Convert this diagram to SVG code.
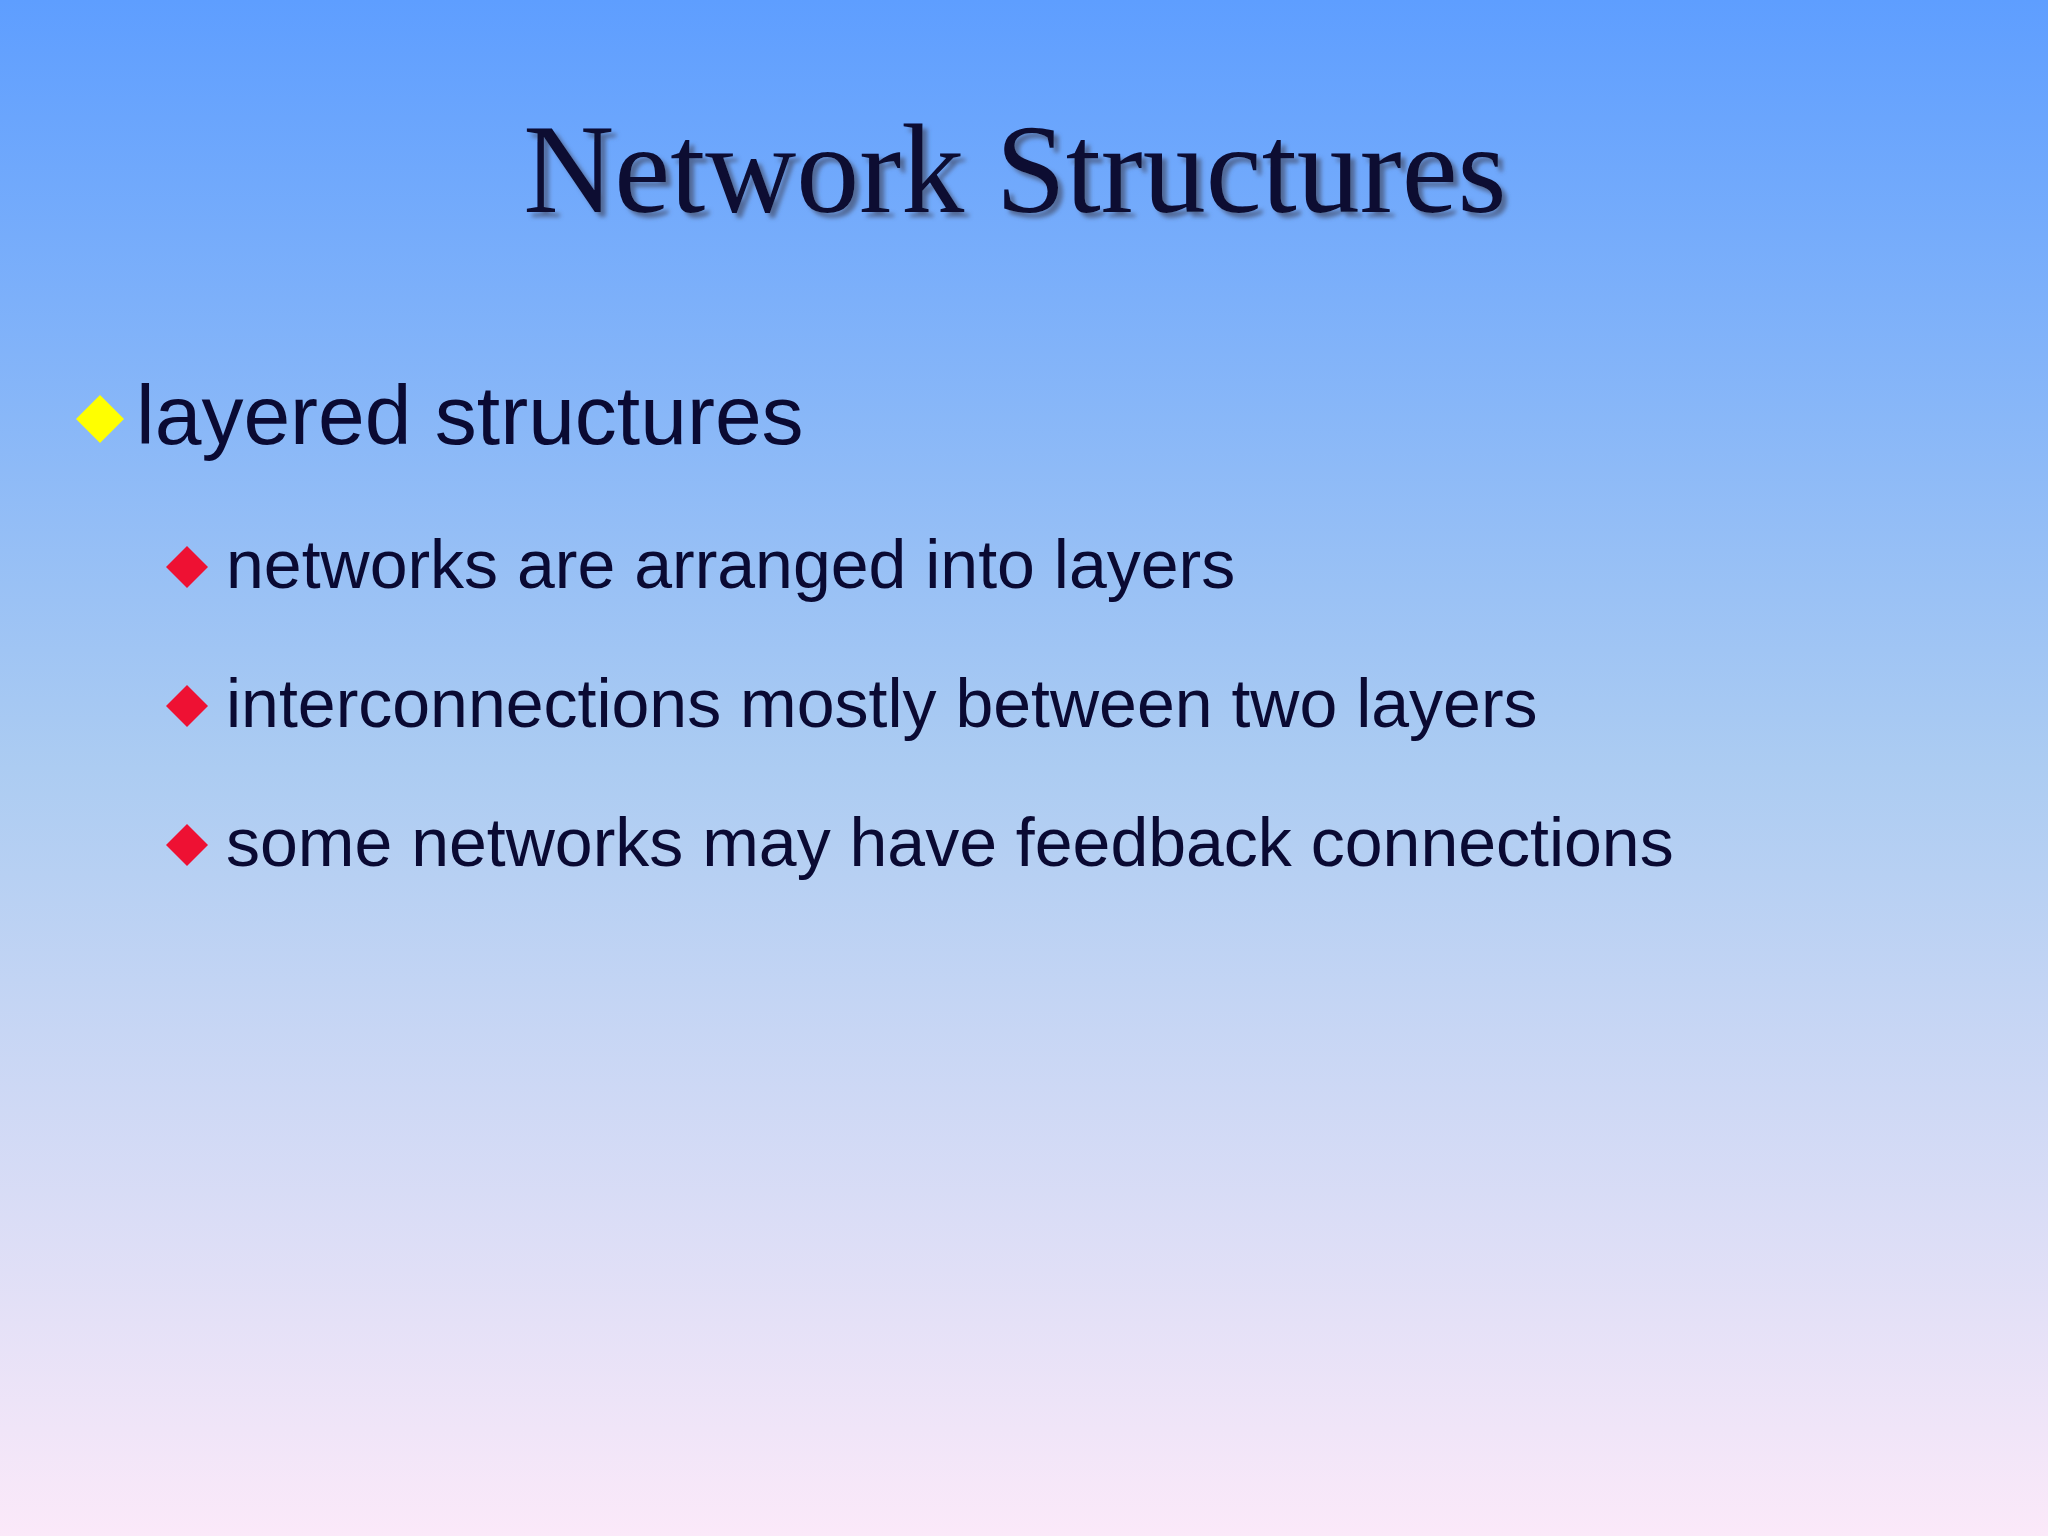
<svg xmlns="http://www.w3.org/2000/svg" width="2048" height="1536" viewBox="0 0 2048 1536">
<defs>
<linearGradient id="bg" x1="0" y1="0" x2="0" y2="1">
<stop offset="0" stop-color="#5e9eff"/>
<stop offset="0.5" stop-color="#acccf2"/>
<stop offset="1" stop-color="#fbe9f9"/>
</linearGradient>
<filter id="sh" x="-5%" y="-20%" width="110%" height="140%">
<feDropShadow dx="5" dy="5" stdDeviation="2" flood-color="#4a5a80" flood-opacity="0.8"/>
</filter>
</defs>
<style>
.t{font-family:"Liberation Sans",Arial,sans-serif;fill:#0a0a33}
</style>
<rect width="2048" height="1536" fill="url(#bg)"/>
<text x="1015" y="212" text-anchor="middle" font-family="'Liberation Serif','Times New Roman',serif" font-size="126" fill="#0a0a33" filter="url(#sh)">Network Structures</text>
<g id="b1">
<polygon points="100,395 124,419 100,443 76,419" fill="#ffff00"/>
<text class="t" x="136" y="444" font-size="84">layered structures</text>
</g>
<g id="b2">
<polygon points="187,546 208,567 187,588 166,567" fill="#ee1133"/>
<text class="t" x="226" y="588" font-size="68">networks are arranged into layers</text>
</g>
<g id="b3">
<polygon points="187,685 208,706 187,727 166,706" fill="#ee1133"/>
<text class="t" x="226" y="727" font-size="68">interconnections mostly between two layers</text>
</g>
<g id="b4">
<polygon points="187,824 208,845 187,866 166,845" fill="#ee1133"/>
<text class="t" x="226" y="866" font-size="68">some networks may have feedback connections</text>
</g>
<g id="connectors"/>
</svg>
